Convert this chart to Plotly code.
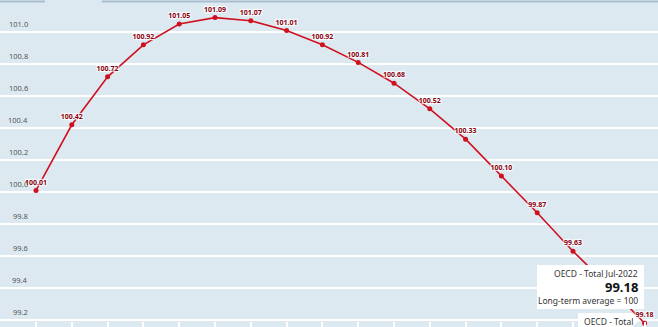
import plotly.graph_objects as go

months = ["Feb-2021", "Mar-2021", "Apr-2021", "May-2021", "Jun-2021", "Jul-2021",
          "Aug-2021", "Sep-2021", "Oct-2021", "Nov-2021", "Dec-2021", "Jan-2022",
          "Feb-2022", "Mar-2022", "Apr-2022", "May-2022", "Jun-2022", "Jul-2022"]
values = [100.01, 100.42, 100.72, 100.92, 101.05, 101.09, 101.07, 101.01, 100.92,
          100.81, 100.68, 100.52, 100.33, 100.10, 99.87, 99.63, 99.41, 99.18]
# the Jun-2022 label is hidden behind the tooltip in the reference
label_hidden = [False] * 16 + [True, False]
y_ticks = [99.2, 99.4, 99.6, 99.8, 100.0, 100.2, 100.4, 100.6, 100.8, 101.0]
y_tick_labels = ["99.2", "99.4", "99.6", "99.8", "100.0", "100.2", "100.4", "100.6", "100.8", "101.0"]

W, H = 658, 327
BG = "#dde9f1"
LINE = "#d0101f"
LABEL = "#8a0010"
FONT = "Noto Sans"

idx = list(range(len(months)))
fig = go.Figure()
fig.add_trace(go.Scatter(
    x=idx, y=values, mode="lines+markers+text",
    line=dict(color=LINE, width=1.6),
    marker=dict(color=LINE, size=5),
    text=["" if h else f"{v:.2f}" for v, h in zip(values, label_hidden)],
    textposition="top center",
    textfont=dict(family=FONT, size=7, color=LABEL, weight="bold",
                  shadow="1px 1px 1px #fff, -1px -1px 1px #fff, 1px -1px 1px #fff, -1px 1px 1px #fff"),
    hoverinfo="skip", showlegend=False, cliponaxis=False,
))

# x axis: px = 36 + 35.8*i
step = 35.8
x0 = -36 / step
x1 = (W - 36) / step
# y axis: 160 px per unit, 101.0 at y=32
ytop = 101.0 + 32 / 160
ybot = 101.0 - (H - 32) / 160

annotations = []
for v, lab in zip(y_ticks, y_tick_labels):
    annotations.append(dict(xref="paper", yref="y", x=30 / W, y=v, text=lab,
                            xanchor="right", yanchor="bottom", yshift=1, showarrow=False,
                            font=dict(family=FONT, size=7.5, color="#555")))

shapes = [
    dict(type="line", xref="paper", yref="paper", x0=0, x1=45 / W, y0=1 - 1.5 / H, y1=1 - 1.5 / H,
         line=dict(color="#a9bfd0", width=2)),
    dict(type="line", xref="paper", yref="paper", x0=102 / W, x1=1, y0=1 - 1.5 / H, y1=1 - 1.5 / H,
         line=dict(color="#a9bfd0", width=2)),
    # main tooltip box
    dict(type="rect", xref="paper", yref="paper", x0=537 / W, x1=644 / W,
         y0=1 - 309 / H, y1=1 - 265 / H, fillcolor="white", line=dict(width=0), layer="above"),
    # bottom tooltip box
    dict(type="rect", xref="paper", yref="paper", x0=578 / W, x1=632 / W,
         y0=0, y1=1 - 313 / H, fillcolor="white", line=dict(width=0), layer="above"),
    dict(type="path", xref="paper", yref="paper",
         path=f"M {632/W} {1-313/H} L {640/W} {1-320/H} L {632/W} {1-327/H} Z",
         fillcolor="white", line=dict(width=0), layer="above"),
]

annotations += [
    dict(xref="paper", yref="paper", x=640 / W, y=1 - 273.5 / H, text="OECD - Total Jul-2022",
         xanchor="right", yanchor="middle", showarrow=False,
         font=dict(family=FONT, size=8.5, color="#333")),
    dict(xref="paper", yref="paper", x=640 / W, y=1 - 287 / H, text="<b>99.18</b>",
         xanchor="right", yanchor="middle", showarrow=False,
         font=dict(family=FONT, size=13, color="#111")),
    dict(xref="paper", yref="paper", x=640 / W, y=1 - 300 / H, text="Long-term average = 100",
         xanchor="right", yanchor="middle", showarrow=False,
         font=dict(family=FONT, size=8.5, color="#333")),
    dict(xref="paper", yref="paper", x=582 / W, y=1 - 321 / H, text="OECD - Total",
         xanchor="left", yanchor="middle", showarrow=False,
         font=dict(family=FONT, size=8.5, color="#333")),
]

fig.update_layout(
    width=W, height=H, margin=dict(l=0, r=0, t=0, b=0),
    paper_bgcolor=BG, plot_bgcolor=BG,
    xaxis=dict(range=[x0, x1], tickvals=idx, ticktext=months, showticklabels=False,
               ticks="inside", ticklen=5, tickcolor="white", tickwidth=1.5,
               showgrid=False, zeroline=False, showline=False, fixedrange=True),
    yaxis=dict(range=[ybot, ytop], tickvals=y_ticks, showticklabels=False,
               showgrid=True, gridcolor="white", gridwidth=1.5, zeroline=False,
               showline=False, fixedrange=True),
    shapes=shapes, annotations=annotations,
)

fig.write_html("out.html")
